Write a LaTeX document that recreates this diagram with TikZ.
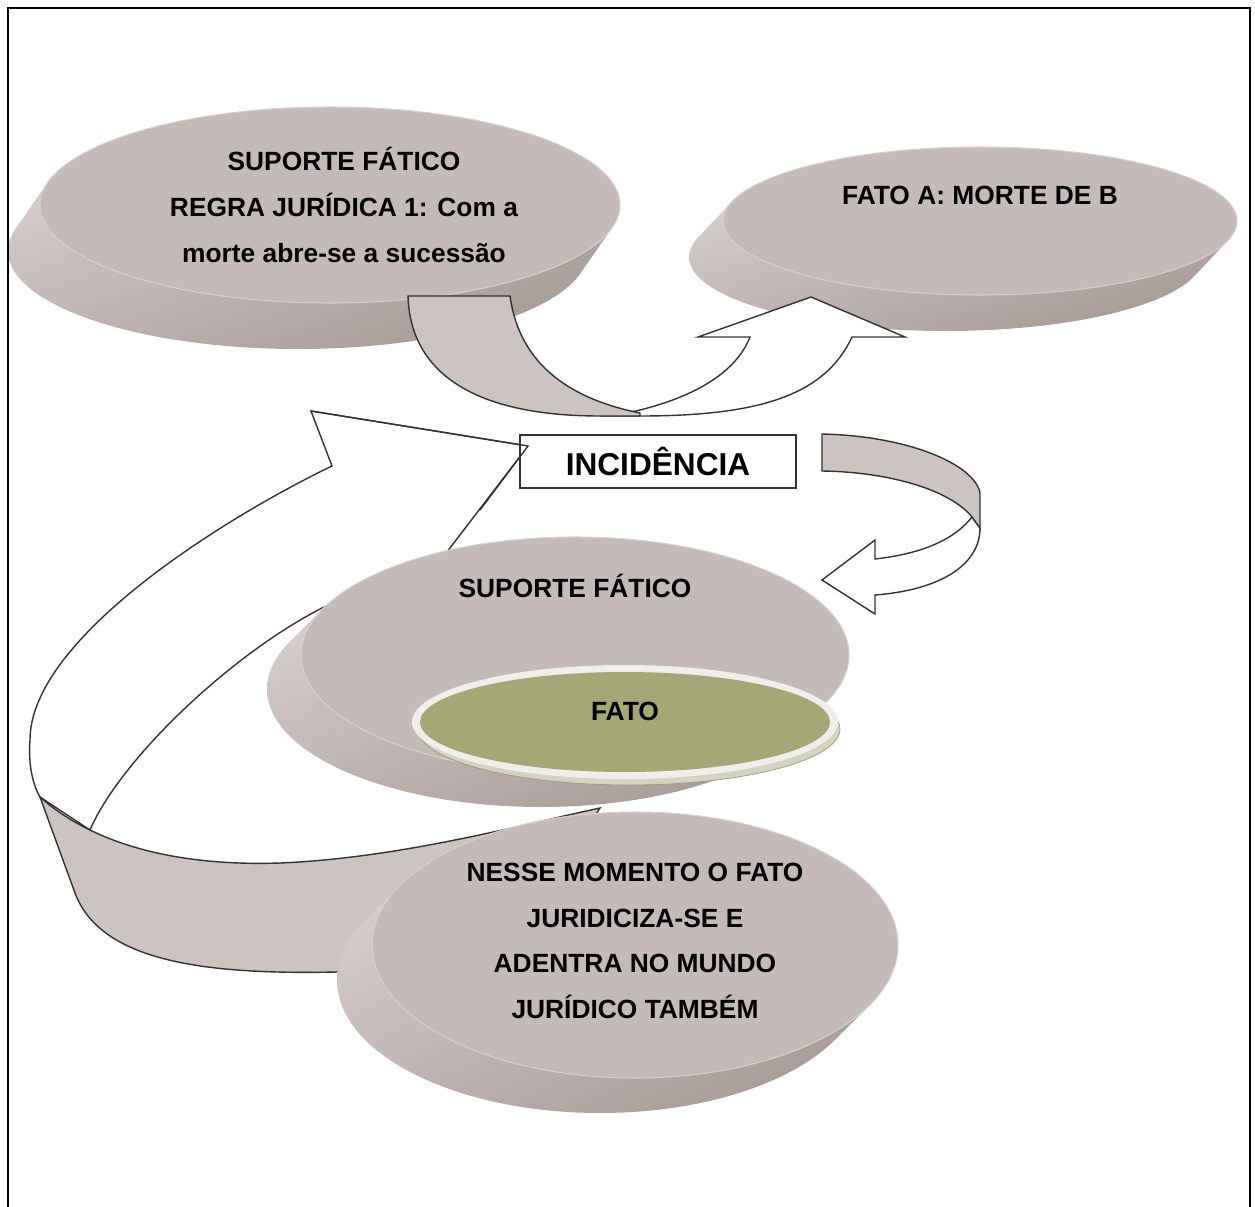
\documentclass[tikz,border=0pt]{standalone}
\usepackage{fontspec}
\setmainfont{Liberation Sans}
\usepackage{tikz}
\usetikzlibrary{shadings}
\definecolor{facegray}{RGB}{196,187,184}
\definecolor{rimgray}{RGB}{214,208,205}
\definecolor{sidelight}{RGB}{226,220,217}
\definecolor{sidemid}{RGB}{190,180,177}
\definecolor{sidedark}{RGB}{160,147,144}
\definecolor{bandgray}{RGB}{203,196,193}
\definecolor{olive}{RGB}{165,167,116}
\definecolor{rimwhite}{RGB}{238,238,234}
\definecolor{fatoedge}{RGB}{212,210,192}
\definecolor{outline}{RGB}{51,51,51}

\begin{document}
\begin{tikzpicture}[x=0.02cm,y=-0.02cm,
  every node/.style={font=\bfseries\fontsize{15}{26}\selectfont,align=center,inner sep=0pt},
  arrowline/.style={draw=outline,line width=0.8pt,line join=miter},
  discside/.style={upper left=sidelight,upper right=sidemid,lower left=sidemid,lower right=sidedark},
  discface/.style={fill=facegray,draw=rimgray,line width=0.6pt}]
  \useasboundingbox (0,0) rectangle (1255,1207);

  % upper discs: cx/cy/rx/ry/dx/dy
  \foreach \cx/\cy/\rx/\ry/\dx/\dy in {330/205/290/98/-32/46, 980/221/257/74/-34/36}{
    \shade[discside] foreach \k in {1,...,16}{({\cx+\k*\dx/16},{\cy+\k*\dy/16}) ellipse [x radius=\rx,y radius=\ry]};
    \path[discface] (\cx,\cy) ellipse [x radius=\rx,y radius=\ry];
  }

  % upper arrow, white half then gray half
  \path[arrowline,fill=white] (636,411) .. controls (690,398) and (735,375) .. (750,337) -- (698,337) -- (811,297)
    -- (905,337) -- (852,337) .. controls (825,395) and (760,416) .. (640,416) -- (600,416) -- cycle;
  \path[arrowline,fill=bandgray] (408,296) -- (510,296) .. controls (520,368) and (575,400) .. (640,413) -- (640,416)
    -- (600,416) .. controls (470,416) and (410,370) .. (408,296) -- cycle;

  % big arrow going back up to the box
  \path[arrowline,fill=white] (311,411) -- (528,446) -- (440,561) .. controls (400,600) and (360,590) .. (322,608)
    .. controls (230,655) and (120,760) .. (90,830) -- (40,797) .. controls (33,785) and (28,765) .. (30,740)
    .. controls (30,640) and (220,520) .. (332,466) -- cycle;
  \path[arrowline,fill=bandgray] (40,797) .. controls (100,850) and (190,866) .. (280,863)
    .. controls (400,858) and (520,825) .. (600,808) -- (560,870) -- (337,972)
    .. controls (200,975) and (100,960) .. (75,893) -- cycle;

  % lower discs
  \foreach \cx/\cy/\rx/\ry/\dx/\dy in {635/945/263/133/-35/35, 575/655/274/118/-34/34}{
    \shade[discside] foreach \k in {1,...,16}{({\cx+\k*\dx/16},{\cy+\k*\dy/16}) ellipse [x radius=\rx,y radius=\ry]};
    \path[discface] (\cx,\cy) ellipse [x radius=\rx,y radius=\ry];
  }

  % FATO plate
  \filldraw[fill=fatoedge,draw=olive!70!gray,line width=0.4pt] (629,729) ellipse [x radius=211,y radius=56];
  \fill[rimwhite] (625,722) ellipse [x radius=213,y radius=57];
  \fill[olive] (625,722) ellipse [x radius=205,y radius=50];

  % right arrow, white half then gray half
  \path[arrowline,fill=white] (972,517) .. controls (950,545) and (910,555) .. (875,559) -- (875,540) -- (822,580)
    -- (875,614) -- (875,595) .. controls (940,590) and (980,565) .. (980,528) -- cycle;
  \path[arrowline,fill=bandgray] (822,434) .. controls (910,436) and (975,465) .. (980,493) -- (980,528) -- (972,517)
    .. controls (950,490) and (890,472) .. (822,471) -- cycle;

  \node[draw=outline,fill=white,line width=0.9pt,minimum width=5.52cm,minimum height=1.06cm,
    font=\bfseries\fontsize{18}{22}\selectfont] (incid) at (658,461.5) {INCIDÊNCIA};
  \draw[arrowline] (311,411) -- (528,446) -- (480,510);

  \node (regra) at (344,205) {SUPORTE FÁTICO\\REGRA JURÍDICA 1: Com a\\morte abre-se a sucessão};
  \node (fatoa) at (980,195) {FATO A: MORTE DE B};
  \node (suporte) at (575,586) {SUPORTE FÁTICO};
  \node (fato) at (625,711) {FATO};
  \node (nesse) at (635,941) {NESSE MOMENTO O FATO\\JURIDICIZA-SE E\\ADENTRA NO MUNDO\\JURÍDICO TAMBÉM};

  \draw[line width=1.4pt] (8,1207) -- (8,8) -- (1250,8) -- (1250,1207);
\end{tikzpicture}
\end{document}
